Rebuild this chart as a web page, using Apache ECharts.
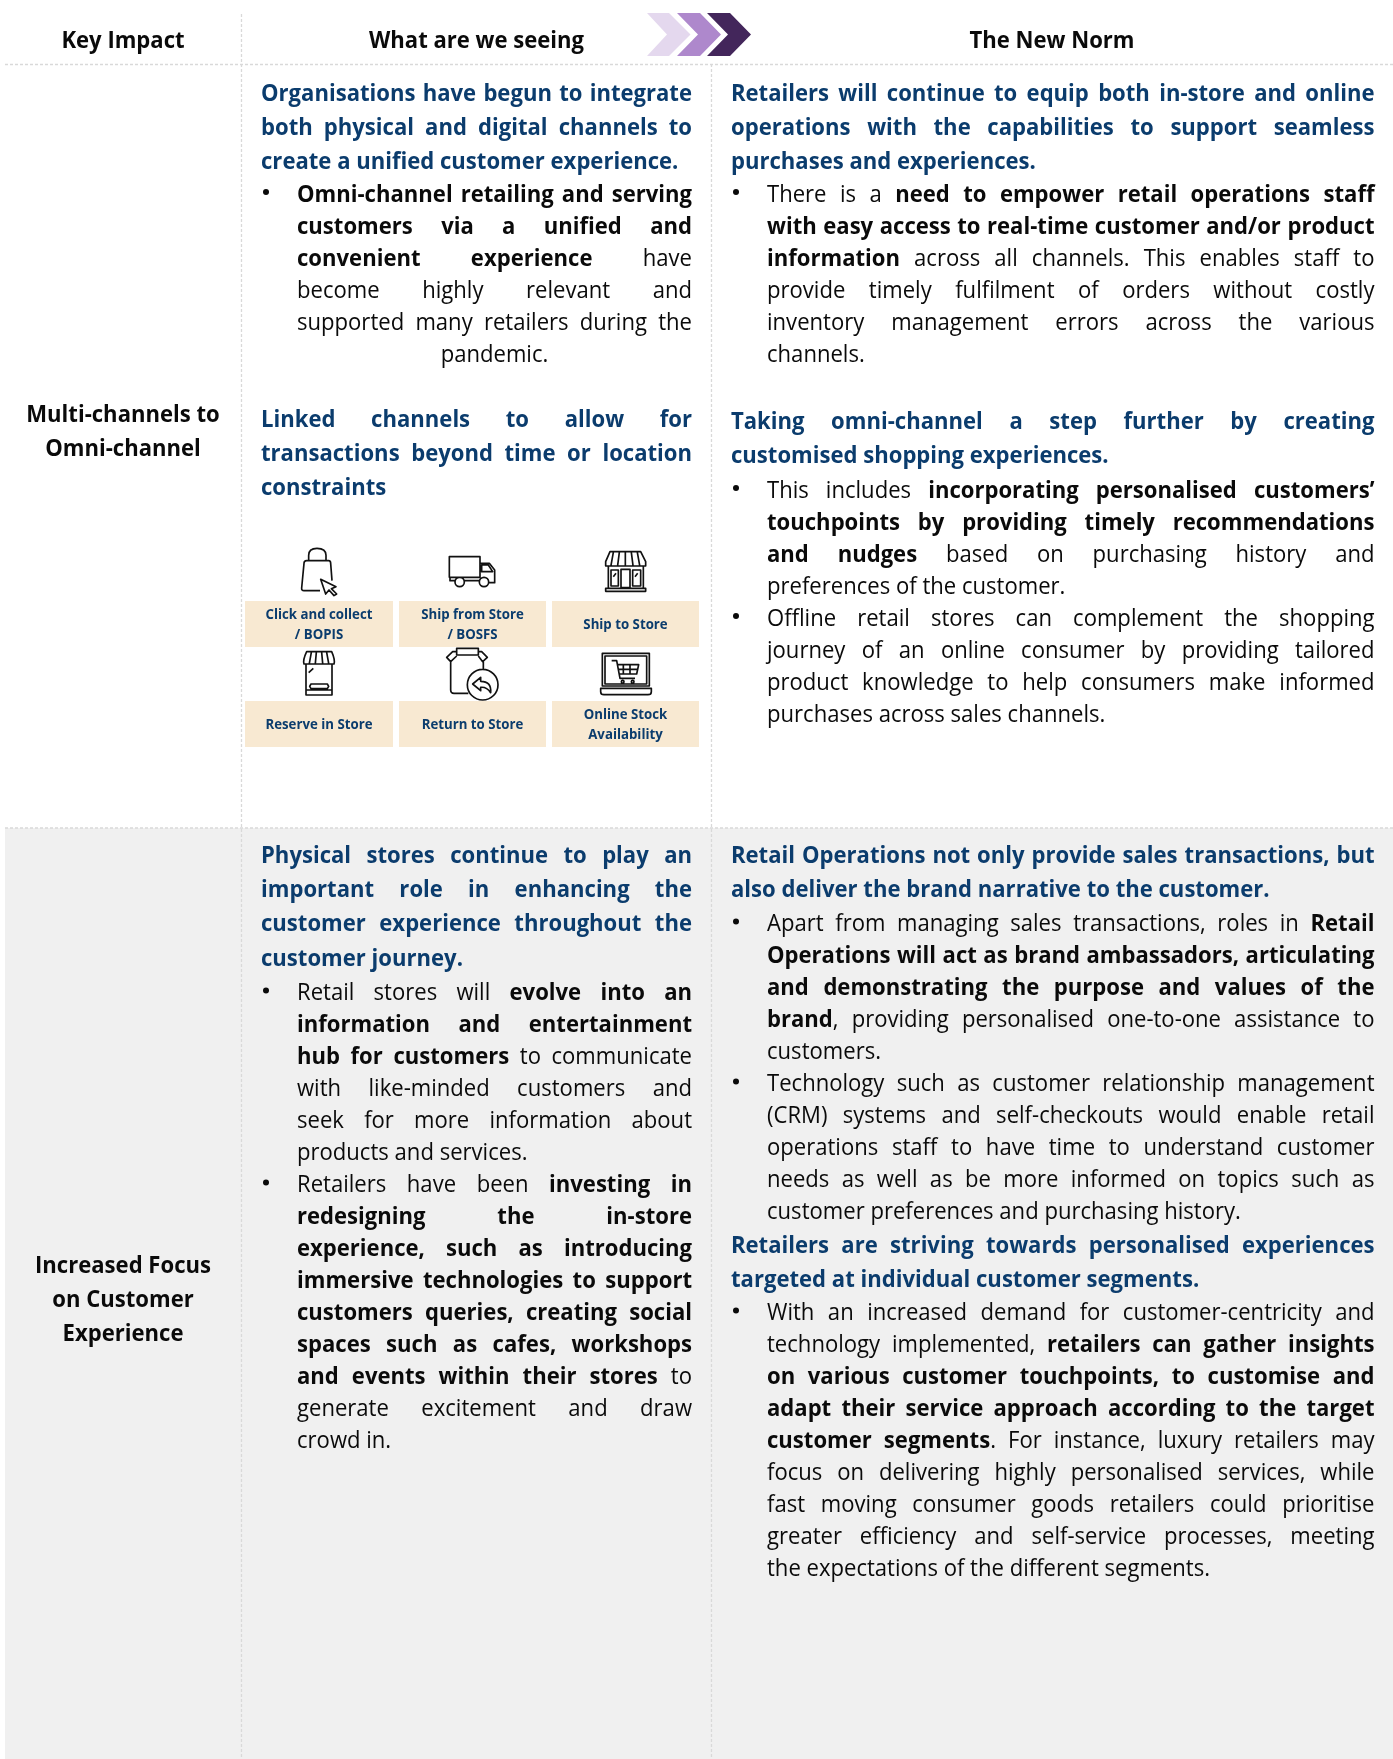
<!DOCTYPE html>
<html>
<head>
<meta charset="utf-8">
<title>Key Impact</title>
<style>
	html, body { margin: 0; padding: 0; background: #fff; }
	#main { width: 1393px; height: 1759px; }
</style>
<script src="https://cdn.jsdelivr.net/npm/echarts@6/dist/echarts.min.js"></script>
</head>
<body>
<div id="main"></div>
<script>
// table text. ** toggles bold, | = last line of a paragraph (not stretched), ^ = centred, • = bullet starts here
var headers = ['Key Impact', 'What are we seeing', 'The New Norm'];
var rowLabels1 = ['Multi-channels to', 'Omni-channel'];
var rowLabels2 = ['Increased Focus', 'on Customer', 'Experience'];

var seeingHead1 = ['Organisations have begun to integrate', 'both physical and digital channels to', '|create a unified customer experience.'];
var seeingBody1 = [
	'•**Omni-channel retailing and serving',
	'**customers via a unified and',
	'**convenient experience** have',
	'become highly relevant and',
	'supported many retailers during the',
	'^pandemic.'
];
var seeingHead2 = ['Linked channels to allow for', 'transactions beyond time or location', '|constraints'];

var normHead1 = ['Retailers will continue to equip both in-store and online', 'operations with the capabilities to support seamless', '|purchases and experiences.'];
var normBody1 = [
	'•There is a **need to empower retail operations staff',
	'**with easy access to real-time customer and/or product',
	'**information** across all channels. This enables staff to',
	'provide timely fulfilment of orders without costly',
	'inventory management errors across the various',
	'|channels.'
];
var normHead2 = ['Taking omni-channel a step further by creating', '|customised shopping experiences.'];
var normBody2 = [
	'•This includes **incorporating personalised customers’',
	'**touchpoints by providing timely recommendations',
	'**and nudges** based on purchasing history and',
	'|preferences of the customer.',
	'•Offline retail stores can complement the shopping',
	'journey of an online consumer by providing tailored',
	'product knowledge to help consumers make informed',
	'|purchases across sales channels.'
];

var seeingHead3 = ['Physical stores continue to play an', 'important role in enhancing the', 'customer experience throughout the', '|customer journey.'];
var seeingBody3 = [
	'•Retail stores will **evolve into an',
	'**information and entertainment',
	'**hub for customers** to communicate',
	'with like-minded customers and',
	'seek for more information about',
	'|products and services.',
	'•Retailers have been **investing in',
	'**redesigning the in-store',
	'**experience, such as introducing',
	'**immersive technologies to support',
	'**customers queries, creating social',
	'**spaces such as cafes, workshops',
	'**and events within their stores** to',
	'generate excitement and draw',
	'|crowd in.'
];

var normHead3 = ['Retail Operations not only provide sales transactions, but', '|also deliver the brand narrative to the customer.'];
var normBody3 = [
	'•Apart from managing sales transactions, roles in **Retail',
	'**Operations will act as brand ambassadors, articulating',
	'**and demonstrating the purpose and values of the',
	'**brand**, providing personalised one-to-one assistance to',
	'|customers.',
	'•Technology such as customer relationship management',
	'(CRM) systems and self-checkouts would enable retail',
	'operations staff to have time to understand customer',
	'needs as well as be more informed on topics such as',
	'|customer preferences and purchasing history.'
];
var normHead4 = ['Retailers are striving towards personalised experiences', '|targeted at individual customer segments.'];
var normBody4 = [
	'•With an increased demand for customer-centricity and',
	'technology implemented, **retailers can gather insights',
	'**on various customer touchpoints, to customise and',
	'**adapt their service approach according to the target',
	'**customer segments**. For instance, luxury retailers may',
	'focus on delivering highly personalised services, while',
	'fast moving consumer goods retailers could prioritise',
	'greater efficiency and self-service processes, meeting',
	'|the expectations of the different segments.'
];

var channelLabels = [['Click and collect', '/ BOPIS'], ['Ship from Store', '/ BOSFS'], ['Ship to Store'], ['Reserve in Store'], ['Return to Store'], ['Online Stock', 'Availability']];

(function () {
	var FONT = '"Open Sans"';
	var BODY_SIZE = 23;
	var SQUEEZE = 0.96;
	var BLUE = '#0b3c6d';
	var BLACK = '#0a0a0a';
	var LINE = '#d9d9d9';
	var iconCount = 0;

	var chart = echarts.init(document.getElementById('main'), null, {renderer: 'canvas'});
	var ctx = document.createElement('canvas').getContext('2d');
	var els = [];

	function measure(t, bold, size) {
		ctx.font = (bold ? 'bold ' : '') + size + 'px ' + FONT;
		return ctx.measureText(t).width * SQUEEZE;
	}

	function putText(t, x, y, bold, size, fill) {
		els.push({
			type: 'text', silent: true, x: x, y: y + 2, scaleX: SQUEEZE,
			style: {text: t, x: 0, y: 0, fontFamily: FONT, fontSize: size, fontWeight: bold ? 'bold' : 'normal', fill: fill, verticalAlign: 'middle', align: 'left'}
		});
	}

	// split "aa **bb** cc" into words, each word is a list of styled pieces
	function parseWords(s, bold) {
		var words = [], cur = null;
		s.split('**').forEach(function (piece, i) {
			var isBold = bold || i % 2 === 1;
			piece.split(/( )/).forEach(function (tok) {
				if (tok === ' ') { cur = null; return; }
				if (!tok) return;
				if (!cur) { cur = []; words.push(cur); }
				cur.push({t: tok, b: isBold});
			});
		});
		return words;
	}

	function drawLine(raw, x0, x1, y, size, fill, allBold) {
		var mode = 'justify', s = raw;
		if (s.charAt(0) === '|') { mode = 'left'; s = s.slice(1); }
		if (s.charAt(0) === '^') { mode = 'center'; s = s.slice(1); }
		var words = parseWords(s, allBold);
		var widths = words.map(function (w) {
			return w.reduce(function (a, p) { return a + measure(p.t, p.b, size); }, 0);
		});
		var total = widths.reduce(function (a, b) { return a + b; }, 0);
		var gap = measure(' ', allBold, size);
		var x = x0;
		if (mode === 'justify' && words.length > 1) gap = (x1 - x0 - total) / (words.length - 1);
		if (mode === 'center') x = (x0 + x1 - total - gap * (words.length - 1)) / 2;
		words.forEach(function (w, i) {
			var px = x;
			w.forEach(function (p) {
				putText(p.t, px, y, p.b, size, fill);
				px += measure(p.t, p.b, size);
			});
			x += widths[i] + gap;
		});
	}

	function drawHeading(lines, x0, x1, y) {
		lines.forEach(function (l, i) {
			drawLine(l, x0, x1, y + i * 34.2, BODY_SIZE, BLUE, true);
		});
	}

	function drawBody(lines, x0, x1, y) {
		lines.forEach(function (l, i) {
			var ly = y + i * 32;
			if (l.charAt(0) === '•') {
				l = l.slice(1);
				els.push({type: 'circle', silent: true, shape: {cx: x0 - 31, cy: ly - 1, r: 3}, style: {fill: BLACK}});
			}
			drawLine(l, x0, x1, ly, BODY_SIZE, BLACK, false);
		});
	}

	function centered(t, cx, y, size, fill) {
		els.push({
			type: 'text', silent: true, x: cx, y: y + 2, scaleX: SQUEEZE,
			style: {text: t, x: 0, y: 0, fontFamily: FONT, fontSize: size, fontWeight: 'bold', fill: fill, align: 'center', verticalAlign: 'middle'}
		});
	}

	function dash(x1, y1, x2, y2) {
		els.push({type: 'line', silent: true, shape: {x1: x1, y1: y1, x2: x2, y2: y2}, style: {stroke: LINE, lineWidth: 1.3, lineDash: [3, 2]}});
	}

	function circlePath(cx, cy, r) {
		return 'M' + (cx - r) + ' ' + cy + 'a' + r + ' ' + r + ' 0 1 0 ' + (2 * r) + ' 0a' + r + ' ' + r + ' 0 1 0 ' + (-2 * r) + ' 0';
	}

	// icons are written in px of the 3x crop starting at (230, 520)
	function icon(d, fill) {
		var name = 'channelIcon' + (iconCount++);
		echarts.graphic.registerShape(name, echarts.graphic.extendPath(d, {}));
		els.push({
			type: name, silent: true, x: 230, y: 520, scaleX: 1 / 3, scaleY: 1 / 3,
			style: {fill: fill || 'none', stroke: '#111', lineWidth: 5, lineJoin: 'round'}
		});
	}

	// background and rules
	els.push({type: 'rect', silent: true, shape: {x: 5, y: 828, width: 1388, height: 931}, style: {fill: '#f0f0f0'}});
	dash(5, 64.5, 1393, 64.5);
	dash(5, 828, 1393, 828);
	dash(241.5, 14, 241.5, 1759);
	dash(711.5, 64, 711.5, 1759);

	// chevrons
	els.push({type: 'polygon', silent: true, shape: {points: [[647, 13], [669, 13], [690.5, 34.5], [669, 56], [647, 56], [667, 34.5]]}, style: {fill: '#e4d8ee'}});
	els.push({type: 'polygon', silent: true, shape: {points: [[677, 13], [700, 13], [721, 34.5], [700, 56], [677, 56], [698, 34.5]]}, style: {fill: '#ae88cc'}});
	els.push({type: 'polygon', silent: true, shape: {points: [[707, 13], [730, 13], [751, 34.5], [730, 56], [707, 56], [728, 34.5]]}, style: {fill: '#43265b'}});

	// headers and row labels
	centered(headers[0], 123, 39, BODY_SIZE, BLACK);
	centered(headers[1], 476.5, 39, BODY_SIZE, BLACK);
	centered(headers[2], 1052, 39, BODY_SIZE, BLACK);
	rowLabels1.forEach(function (t, i) { centered(t, 123, 413 + i * 34.2, BODY_SIZE, BLACK); });
	rowLabels2.forEach(function (t, i) { centered(t, 123, 1264 + i * 34.2, BODY_SIZE, BLACK); });

	// columns
	var SX0 = 261, SX1 = 692, SB = 297;
	var NX0 = 731, NX1 = 1374.5, NB = 767;
	drawHeading(seeingHead1, SX0, SX1, 92);
	drawBody(seeingBody1, SB, SX1, 193);
	drawHeading(seeingHead2, SX0, SX1, 418.5);
	drawHeading(normHead1, NX0, NX1, 92);
	drawBody(normBody1, NB, NX1, 193);
	drawHeading(normHead2, NX0, NX1, 420.5);
	drawBody(normBody2, NB, NX1, 489);
	drawHeading(seeingHead3, SX0, SX1, 854.5);
	drawBody(seeingBody3, SB, SX1, 991.5);
	drawHeading(normHead3, NX0, NX1, 854.5);
	drawBody(normBody3, NB, NX1, 922.5);
	drawHeading(normHead4, NX0, NX1, 1244);
	drawBody(normBody4, NB, NX1, 1311.5);

	// channel cells
	var cellX = [[245, 393], [399, 546], [552, 699]];
	var cellY = [[601, 647], [701, 747]];
	channelLabels.forEach(function (lines, i) {
		var c = cellX[i % 3], r = cellY[i < 3 ? 0 : 1];
		els.push({type: 'rect', silent: true, shape: {x: c[0], y: r[0], width: c[1] - c[0], height: r[1] - r[0]}, style: {fill: '#f8e9d2'}});
		var mid = (r[0] + r[1]) / 2;
		lines.forEach(function (t, k) {
			centered(t, (c[0] + c[1]) / 2, mid + (k - (lines.length - 1) / 2) * 19.5 - 1, 13.8, BLUE);
		});
	});

	// bag with cursor
	icon('M236 122V106Q236 85 261 85Q288 85 288 106V122M270 212H222Q214 212 215 204L222 130Q222 122 230 122H296Q302 122 302 130L306 182');
	icon('M272 178L318 200L304 206L320 222L312 227L297 210L287 222Z');
	// truck
	icon('M658 110H750V172H658ZM750 130H778L794 150V188H777M755 135H775L788 155H755ZM660 172V182H675M703 182H748' + circlePath(689, 186, 14) + circlePath(762, 186, 14));
	// store
	icon('M1140 95H1232L1247 125V138H1127V125ZM1150 97L1143 136M1168 97L1163 136M1186 97V136M1204 97L1209 136M1222 97L1229 136M1135 140V205H1240V140M1127 205H1247V214H1127ZM1173 148H1200V203H1173ZM1143 150H1165V198H1143ZM1208 150H1232V198H1208ZM1150 170L1158 160M1215 170L1223 160');
	// kiosk
	icon('M230 395H305Q316 420 312 432H222Q218 420 230 395ZM244 397L238 430M259 397L256 430M275 397L278 430M290 397L296 430M228 434V525H306V434M228 510H306M243 492H292L296 499L292 506H243L239 499ZM236 458L250 445');
	// jug with return arrow
	icon('M680 385H745V405H680ZM680 395H668L650 412L662 425L680 408M745 395H755L772 412L758 425L745 408M662 425V510Q662 520 672 520H715M760 425V450' + circlePath(758, 494, 46));
	icon('M728 492L752 472V484Q785 484 782 518Q770 500 752 502V512Z');
	// laptop with cart
	icon('M1117 400H1258V498H1117ZM1125 408H1250V492H1125ZM1112 505H1264V515Q1264 524 1254 524H1122Q1112 524 1112 515ZM1145 422H1160L1170 475H1215M1160 434H1226L1220 462H1168M1180 434V462M1200 434V462M1164 448H1223' + circlePath(1178, 485, 4) + circlePath(1208, 485, 4));

	chart.setOption({
		animation: false,
		backgroundColor: '#fff',
		graphic: {elements: els}
	});

	window.onresize = function () {
		chart.resize();
	};
})();
</script>
</body>
</html>
